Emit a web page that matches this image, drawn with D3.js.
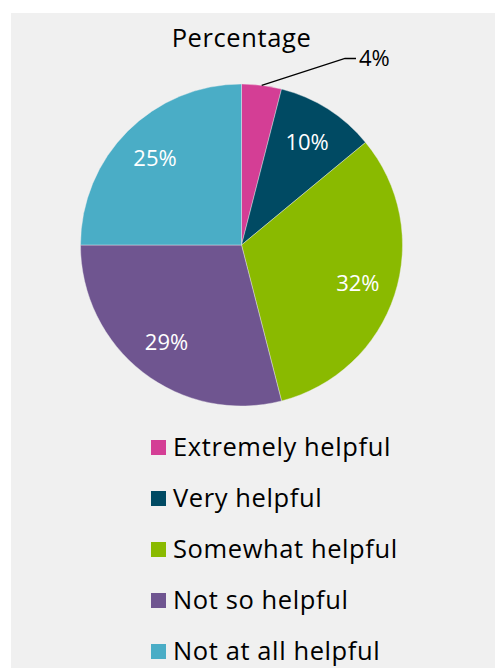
<!DOCTYPE html>
<html>
<head>
<meta charset="utf-8">
<script src="https://cdn.jsdelivr.net/npm/d3@7"></script>
<style>
  html, body { margin: 0; padding: 0; background: #ffffff; }
  svg { display: block; }
  text { font-family: "Open Sans", "Noto Sans", sans-serif; }
</style>
</head>
<body>
<svg id="chart" width="495" height="668"></svg>
<script>
// Survey answers and their share of respondents (%)
const categories = ["Extremely helpful", "Very helpful", "Somewhat helpful", "Not so helpful", "Not at all helpful"];
const values = [4, 10, 32, 29, 25];
const colors = ["#d43e95", "#004a63", "#8aba00", "#6f5590", "#4aadc6"];
const title = "Percentage";

const svg = d3.select("#chart");
const W = 495, H = 668;

// panel background
svg.append("rect")
  .attr("x", 11).attr("y", 13)
  .attr("width", W - 11).attr("height", H - 13)
  .attr("fill", "#f0f0f0");

const cx = 241.5, cy = 245, R = 161;

svg.append("text")
  .attr("x", cx).attr("y", 47)
  .attr("text-anchor", "middle")
  .attr("font-size", 25.5)
  .attr("letter-spacing", 0.6)
  .attr("fill", "#000")
  .text(title);

const data = categories.map((c, i) => ({ name: c, value: values[i], color: colors[i] }));

const pie = d3.pie().value(d => d.value).sort(null);
const arcs = pie(data);

const arc = d3.arc().innerRadius(0).outerRadius(R);
const labelArc = d3.arc().innerRadius(R * 0.76).outerRadius(R * 0.76);
const edgeArc = d3.arc().innerRadius(R).outerRadius(R);

const g = svg.append("g").attr("transform", `translate(${cx},${cy})`);

g.selectAll("path.slice")
  .data(arcs)
  .join("path")
  .attr("class", "slice")
  .attr("d", arc)
  .attr("fill", d => d.data.color)
  .attr("stroke", "#f0f0f0")
  .attr("stroke-width", 0.4);

// inside labels for the larger slices
const inside = arcs.filter(d => d.data.value >= 10);
g.selectAll("text.inlabel")
  .data(inside)
  .join("text")
  .attr("class", "inlabel")
  .attr("transform", d => `translate(${labelArc.centroid(d)})`)
  .attr("text-anchor", "middle")
  .attr("dy", "0.36em")
  .attr("font-size", 22)
  .attr("fill", "#ffffff")
  .text(d => d.data.value + "%");

// small slice: label outside with a leader line
const outside = arcs.filter(d => d.data.value < 10);
outside.forEach(d => {
  const [sx, sy] = edgeArc.centroid(d);
  const ex = 345 - cx, ey = 58.5 - cy;
  g.append("polyline")
    .attr("points", [[sx, sy], [ex, ey], [ex + 11, ey]].map(p => p.join(",")).join(" "))
    .attr("fill", "none")
    .attr("stroke", "#000")
    .attr("stroke-width", 1.3);
  g.append("text")
    .attr("x", ex + 14).attr("y", ey)
    .attr("dy", "0.36em")
    .attr("font-size", 22)
    .attr("fill", "#000")
    .text(d.data.value + "%");
});

// legend
const legend = svg.append("g").attr("transform", "translate(151,440)");
const rowH = 51;
const item = legend.selectAll("g.item")
  .data(data)
  .join("g")
  .attr("class", "item")
  .attr("transform", (d, i) => `translate(0,${i * rowH})`);

item.append("rect")
  .attr("width", 15).attr("height", 15)
  .attr("fill", d => d.color);

item.append("text")
  .attr("x", 22).attr("y", 16)
  .attr("font-size", 25.5)
  .attr("letter-spacing", 0.6)
  .attr("fill", "#000")
  .text(d => d.name);
</script>
</body>
</html>
